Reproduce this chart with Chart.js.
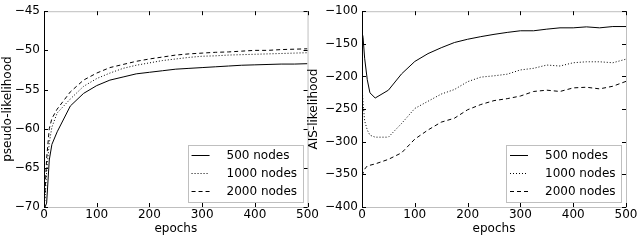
<!DOCTYPE html>
<html>
<head>
<meta charset="utf-8">
<script src="https://cdn.jsdelivr.net/npm/chart.js@4/dist/chart.umd.min.js"></script>
<style>
  body { margin: 0; background: #fff; }
  #wrap { position: relative; width: 640px; height: 240px; }
  canvas { position: absolute; top: 0; }
  #pl { left: 0; }
  #ais { left: 306px; }
</style>
</head>
<body>
<div id="wrap">
  <canvas id="pl" width="320" height="240"></canvas>
  <canvas id="ais" width="334" height="240"></canvas>
</div>
<script>
// data
const epochs = [0, 2, 5, 10, 15, 25, 50, 75, 100, 125, 150, 175, 200, 225, 250, 275, 300, 325, 350, 375, 400, 425, 450, 475, 500];
const labels = ['500 nodes', '1000 nodes', '2000 nodes'];

const pl500  = [-70, -70, -69.5, -64, -62, -60.4, -57.1, -55.5, -54.5, -53.8, -53.4, -53.0, -52.8, -52.6, -52.4, -52.3, -52.2, -52.1, -52.0, -51.9, -51.85, -51.8, -51.75, -51.75, -51.7];
const pl1000 = [-70, -69, -65.5, -61.8, -59.8, -58.0, -56.2, -54.6, -53.6, -52.9, -52.3, -51.9, -51.6, -51.3, -51.1, -50.9, -50.75, -50.7, -50.6, -50.55, -50.5, -50.45, -50.4, -50.35, -50.3];
const pl2000 = [-70, -68, -63.8, -60, -58.7, -57.5, -55.3, -53.8, -52.9, -52.2, -51.8, -51.4, -51.1, -50.85, -50.6, -50.45, -50.35, -50.25, -50.2, -50.1, -50.0, -50.0, -49.9, -49.85, -49.8];

const ais500  = [-132, -140, -172, -205, -225, -233, -221, -196, -177, -165, -156, -148, -143, -139, -135.5, -132.5, -130, -130, -127.5, -125.5, -125.5, -124, -125.5, -123.5, -123.5];
const ais1000 = [-215, -240, -268, -282, -290, -293, -293, -272, -249, -238, -227, -220, -208, -201, -199, -196.5, -190, -187.5, -182.5, -184, -179, -177.5, -177.5, -179, -173.5];
const ais2000 = [-352, -348, -342, -337, -336, -334, -327, -317, -296, -282, -270, -264, -251, -243, -237, -234, -230, -223, -221, -223, -217.5, -216.5, -219, -215, -207.5];

const xTicks = [0, 100, 200, 300, 400, 500];
const plTicks = [-70, -65, -60, -55, -50, -45];
const aisTicks = [-400, -350, -300, -250, -200, -150, -100];

const dashes = [[], [1, 2], [4, 3]];

Chart.defaults.font.family = "'DejaVu Sans', sans-serif";
Chart.defaults.font.size = 12;
Chart.defaults.color = '#000';

const minus = v => String(v).replace('-', '\u2212');

// grey box, black left spine, ticks pointing inwards
const frame = {
  id: 'frame',
  afterDatasetsDraw(chart) {
    const { ctx, chartArea: a, scales: { x, y } } = chart;
    ctx.save();
    ctx.lineWidth = 1;
    ctx.strokeStyle = '#bfbfbf';
    ctx.strokeRect(a.left + 0.5, a.top + 0.5, a.right - a.left, a.bottom - a.top);
    ctx.strokeStyle = '#000';
    ctx.beginPath();
    ctx.moveTo(a.left + 0.5, a.top);
    ctx.lineTo(a.left + 0.5, a.bottom + 1);
    x.ticks.forEach(t => {
      const px = Math.round(x.getPixelForValue(t.value)) + 0.5;
      ctx.moveTo(px, a.top); ctx.lineTo(px, a.top + 4);
      ctx.moveTo(px, a.bottom); ctx.lineTo(px, a.bottom - 4);
    });
    y.ticks.forEach(t => {
      const py = Math.round(y.getPixelForValue(t.value)) + 0.5;
      ctx.moveTo(a.left, py); ctx.lineTo(a.left + 4, py);
      ctx.moveTo(a.right, py); ctx.lineTo(a.right - 4, py);
    });
    ctx.stroke();
    ctx.restore();
  }
};

// legend box in the lower right corner of the plot
const boxLegend = {
  id: 'boxLegend',
  afterDraw(chart) {
    const { ctx, chartArea: a } = chart;
    const w = 115, h = 57;
    const bx = a.right - 5 - w, by = a.bottom - 5 - h;
    ctx.save();
    ctx.fillStyle = '#fff';
    ctx.fillRect(bx, by, w, h);
    ctx.strokeStyle = '#bfbfbf';
    ctx.lineWidth = 1;
    ctx.strokeRect(Math.round(bx) + 0.5, Math.round(by) + 0.5, w, h);
    ctx.font = "12px 'DejaVu Sans'";
    ctx.textBaseline = 'middle';
    ctx.fillStyle = '#000';
    chart.data.datasets.forEach((ds, i) => {
      const ry = Math.round(by + 10 + i * 18) + 0.5;
      ctx.beginPath();
      ctx.setLineDash(ds.borderDash);
      ctx.strokeStyle = '#000';
      ctx.moveTo(bx + 4, ry);
      ctx.lineTo(bx + 22, ry);
      ctx.stroke();
      ctx.setLineDash([]);
      ctx.fillText(ds.label, bx + 39, ry);
    });
    ctx.restore();
  }
};

function makeChart(id, series, yTicks, yTitle, yWidth, padRight) {
  return new Chart(document.getElementById(id), {
    type: 'line',
    data: {
      datasets: series.map((s, i) => ({
        label: labels[i],
        data: epochs.map((e, k) => ({ x: e, y: s[k] })),
        borderColor: '#000',
        borderWidth: 1,
        borderDash: dashes[i],
        pointRadius: 0,
        tension: 0,
        fill: false
      }))
    },
    options: {
      responsive: false,
      animation: false,
      layout: { padding: { top: 7, right: padRight, left: 0, bottom: 0 } },
      plugins: { legend: { display: false }, tooltip: { enabled: false } },
      scales: {
        x: {
          type: 'linear',
          min: 0, max: 500,
          afterBuildTicks: s => { s.ticks = xTicks.map(v => ({ value: v })); },
          afterFit: s => { s.height = 33; },
          grid: { display: false, drawTicks: false },
          border: { display: false },
          ticks: { padding: 1, maxRotation: 0, autoSkip: false },
          title: { display: true, text: 'epochs', padding: { top: 0, bottom: 4 } }
        },
        y: {
          min: yTicks[0], max: yTicks[yTicks.length - 1],
          afterBuildTicks: s => { s.ticks = yTicks.map(v => ({ value: v })); },
          afterFit: s => { s.width = yWidth; },
          grid: { display: false, drawTicks: false },
          border: { display: false },
          ticks: { padding: 4, callback: minus, autoSkip: false },
          title: { display: true, text: yTitle, padding: { top: 1, bottom: 0 } }
        }
      }
    },
    plugins: [frame, boxLegend]
  });
}

makeChart('pl', [pl500, pl1000, pl2000], plTicks, 'pseudo-likelihood', 44, 11);
makeChart('ais', [ais500, ais1000, ais2000], aisTicks, 'AIS-likelihood', 56, 14);
</script>
</body>
</html>
